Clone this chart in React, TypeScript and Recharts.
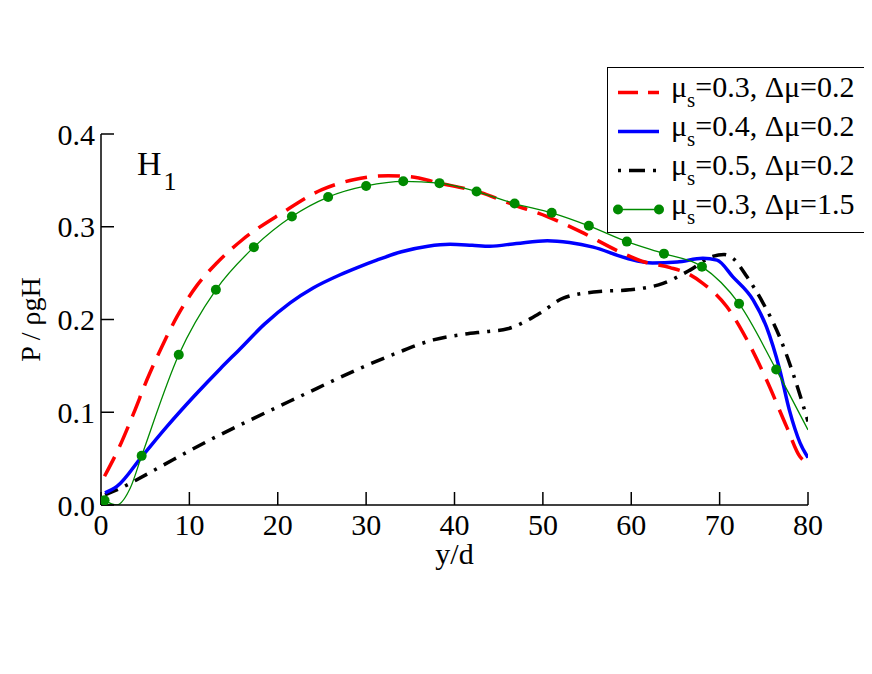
import { LineChart, Line, XAxis, YAxis, Legend } from 'recharts';

const FONT = '"Liberation Serif", "Times New Roman", serif';

// y/d positions and P/ρgH values
const redX = [0.4, 2.1, 3.7, 5.2, 6.9, 8.6, 10.8, 13.1, 16, 20.5, 25, 28.7, 32.5, 35, 38.3, 42.9, 46.6, 50.5, 54.2, 58.7, 61.5, 64.4, 66.5, 68.1, 70.8, 73.1, 75.3, 77.6, 79.1, 80];
const redP = [0.031, 0.063, 0.099, 0.135, 0.171, 0.203, 0.236, 0.261, 0.286, 0.315, 0.34, 0.351, 0.355, 0.354, 0.347, 0.337, 0.324, 0.311, 0.295, 0.273, 0.262, 0.256, 0.249, 0.239, 0.214, 0.178, 0.135, 0.084, 0.052, 0.045];

const blueX = [0.45, 1.8, 4.6, 7.4, 10.5, 13.5, 15.7, 18.5, 21.4, 24, 27, 29, 31.2, 34, 37, 39.5, 42, 44, 47, 50.5, 53, 55.7, 59.5, 62.4, 65.2, 68.1, 69.7, 71.5, 73.8, 75.3, 76.8, 77.9, 79.1, 80];
const blueP = [0.013, 0.02, 0.052, 0.084, 0.117, 0.147, 0.168, 0.195, 0.218, 0.234, 0.248, 0.256, 0.264, 0.273, 0.279, 0.281, 0.28, 0.279, 0.282, 0.285, 0.283, 0.278, 0.266, 0.261, 0.262, 0.266, 0.264, 0.246, 0.221, 0.192, 0.146, 0.102, 0.067, 0.051];

const blackX = [0.45, 2.2, 4, 8.2, 12.3, 16.1, 22.5, 29.7, 33.5, 37.6, 41, 43.6, 46, 49.7, 52.3, 56.1, 59.8, 63.6, 66.6, 69.2, 70.5, 71.5, 73.1, 74.9, 76.8, 78.3, 80];
const blackP = [0.011, 0.018, 0.027, 0.049, 0.07, 0.088, 0.117, 0.149, 0.164, 0.178, 0.184, 0.187, 0.19, 0.207, 0.223, 0.23, 0.232, 0.239, 0.253, 0.268, 0.27, 0.266, 0.246, 0.218, 0.181, 0.142, 0.09];

const greenX = [0.4, 1.8, 3.3, 4.6, 8.8, 13.0, 17.3, 21.6, 25.7, 30, 34.2, 38.3, 42.5, 46.8, 51, 55.2, 59.5, 63.7, 68, 72.2, 76.4, 80];
const greenP = [0.005, 0.0, 0.018, 0.053, 0.162, 0.232, 0.278, 0.311, 0.332, 0.344, 0.349, 0.347, 0.338, 0.325, 0.315, 0.301, 0.284, 0.271, 0.257, 0.217, 0.146, 0.081];
// only these points carry a circle marker
const greenMarked = [true, false, false, true, true, true, true, true, true, true, true, true, true, true, true, true, true, true, true, true, true, false];

const xTicks = [0, 10, 20, 30, 40, 50, 60, 70, 80];
const yTicks = [0, 0.1, 0.2, 0.3, 0.4];

const zip = (xs: number[], ps: number[]) => xs.map((x, i) => ({ y: x, p: ps[i] }));

const redData = zip(redX, redP);
const blueData = zip(blueX, blueP);
const blackData = zip(blackX, blackP);
const greenData = greenX.map((x, i) => ({ y: x, p: greenP[i], mark: greenMarked[i] }));

const GREEN = '#008a00';

const legendRows = [
  { mu: '0.3', dmu: '0.2', color: '#ff0000', dash: '20 10', width: 3.5, dots: false },
  { mu: '0.4', dmu: '0.2', color: '#0000ff', dash: undefined, width: 3.5, dots: false },
  { mu: '0.5', dmu: '0.2', color: '#000000', dash: '3 8 16 8', width: 3.5, dots: false },
  { mu: '0.3', dmu: '1.5', color: GREEN, dash: undefined, width: 1.5, dots: true },
];

function LegendBox() {
  return (
    <div
      style={{
        width: 258,
        height: 166,
        boxSizing: 'border-box',
        border: '1.5px solid #000',
        background: '#fff',
        paddingTop: 5,
        fontFamily: FONT,
        color: '#000',
      }}
    >
      {legendRows.map((r, i) => (
        <div key={i} style={{ display: 'flex', alignItems: 'center', height: 39 }}>
          <svg width={63} height={39} style={{ flexShrink: 0 }}>
            <line x1={10} x2={51} y1={19.5} y2={19.5} stroke={r.color} strokeWidth={r.width} strokeDasharray={r.dash} />
            {r.dots && (
              <>
                <circle cx={10} cy={19.5} r={5} fill={r.color} />
                <circle cx={51} cy={19.5} r={5} fill={r.color} />
              </>
            )}
          </svg>
          <span style={{ fontSize: 30, lineHeight: '30px', whiteSpace: 'nowrap', position: 'relative', top: -4 }}>
            μ<span style={{ fontSize: 21, position: 'relative', top: 10 }}>s</span>={r.mu}, Δμ={r.dmu}
          </span>
        </div>
      ))}
    </div>
  );
}

// circle only on the marked samples of the green curve
function GreenDot(props: any) {
  const { cx, cy, payload, index } = props;
  if (!payload || !payload.mark) return <g key={`gd-${index}`} />;
  return <circle key={`gd-${index}`} cx={cx} cy={cy} r={5} fill={GREEN} stroke="none" />;
}

const tickStyle = { fontSize: 30, fill: '#000', fontFamily: FONT };
const axisLine = { stroke: '#000', strokeWidth: 1.5 };
const tickLine = { stroke: '#000', strokeWidth: 1.5 };

export default function App() {
  return (
    <LineChart width={856} height={620} margin={{ top: 126, right: 56, bottom: 63, left: 0 }}>
      <XAxis
        xAxisId={0}
        dataKey="y"
        type="number"
        domain={[0, 80]}
        ticks={xTicks}
        interval={0}
        allowDataOverflow
        height={60}
        tick={tickStyle}
        tickSize={-13}
        tickMargin={22}
        axisLine={axisLine}
        tickLine={tickLine}
        label={{ value: 'y/d', position: 'insideBottom', offset: 1, fontSize: 30, fill: '#000', fontFamily: FONT }}
      />
      <XAxis
        xAxisId="top"
        orientation="top"
        dataKey="y"
        type="number"
        domain={[0, 80]}
        ticks={xTicks}
        interval={0}
        allowDataOverflow
        height={0}
        tick={false}
        tickSize={-13}
        axisLine={axisLine}
        tickLine={tickLine}
      />
      <YAxis
        yAxisId={0}
        type="number"
        domain={[0, 0.4]}
        ticks={yTicks}
        interval={0}
        allowDataOverflow
        width={93}
        tick={tickStyle}
        tickFormatter={(v: number) => v.toFixed(1)}
        tickSize={-13}
        tickMargin={19}
        axisLine={axisLine}
        tickLine={tickLine}
        label={{ value: 'P / ρgH', angle: -90, position: 'center', dx: -24, fontSize: 28, fill: '#000', fontFamily: FONT }}
      />
      <YAxis
        yAxisId="right"
        orientation="right"
        type="number"
        domain={[0, 0.4]}
        ticks={yTicks}
        interval={0}
        allowDataOverflow
        width={0}
        tick={false}
        tickSize={-13}
        axisLine={axisLine}
        tickLine={tickLine}
      />
      <Line
        data={blackData}
        dataKey="p"
        type="monotone"
        stroke="#000"
        strokeWidth={3.5}
        strokeDasharray="14 8 3 8"
        dot={false}
        activeDot={false}
        isAnimationActive={false}
      />
      <Line
        data={blueData}
        dataKey="p"
        type="monotone"
        stroke="#0000ff"
        strokeWidth={3.5}
        dot={false}
        activeDot={false}
        isAnimationActive={false}
      />
      <Line
        data={redData}
        dataKey="p"
        type="monotone"
        stroke="#ff0000"
        strokeWidth={3.5}
        strokeDasharray="22 11"
        dot={false}
        activeDot={false}
        isAnimationActive={false}
      />
      <Line
        data={greenData}
        dataKey="p"
        type="monotone"
        stroke={GREEN}
        strokeWidth={1.3}
        dot={GreenDot}
        activeDot={false}
        isAnimationActive={false}
      />
      <text x={129} y={167} fontSize={34} fontFamily={FONT} fill="#000">
        H
        <tspan fontSize={26} dy={15} dx={2}>
          1
        </tspan>
      </text>
      <Legend
        layout="vertical"
        align="center"
        verticalAlign="middle"
        content={() => <LegendBox />}
        wrapperStyle={{ left: 599, top: 59, width: 258, height: 166 }}
      />
    </LineChart>
  );
}
